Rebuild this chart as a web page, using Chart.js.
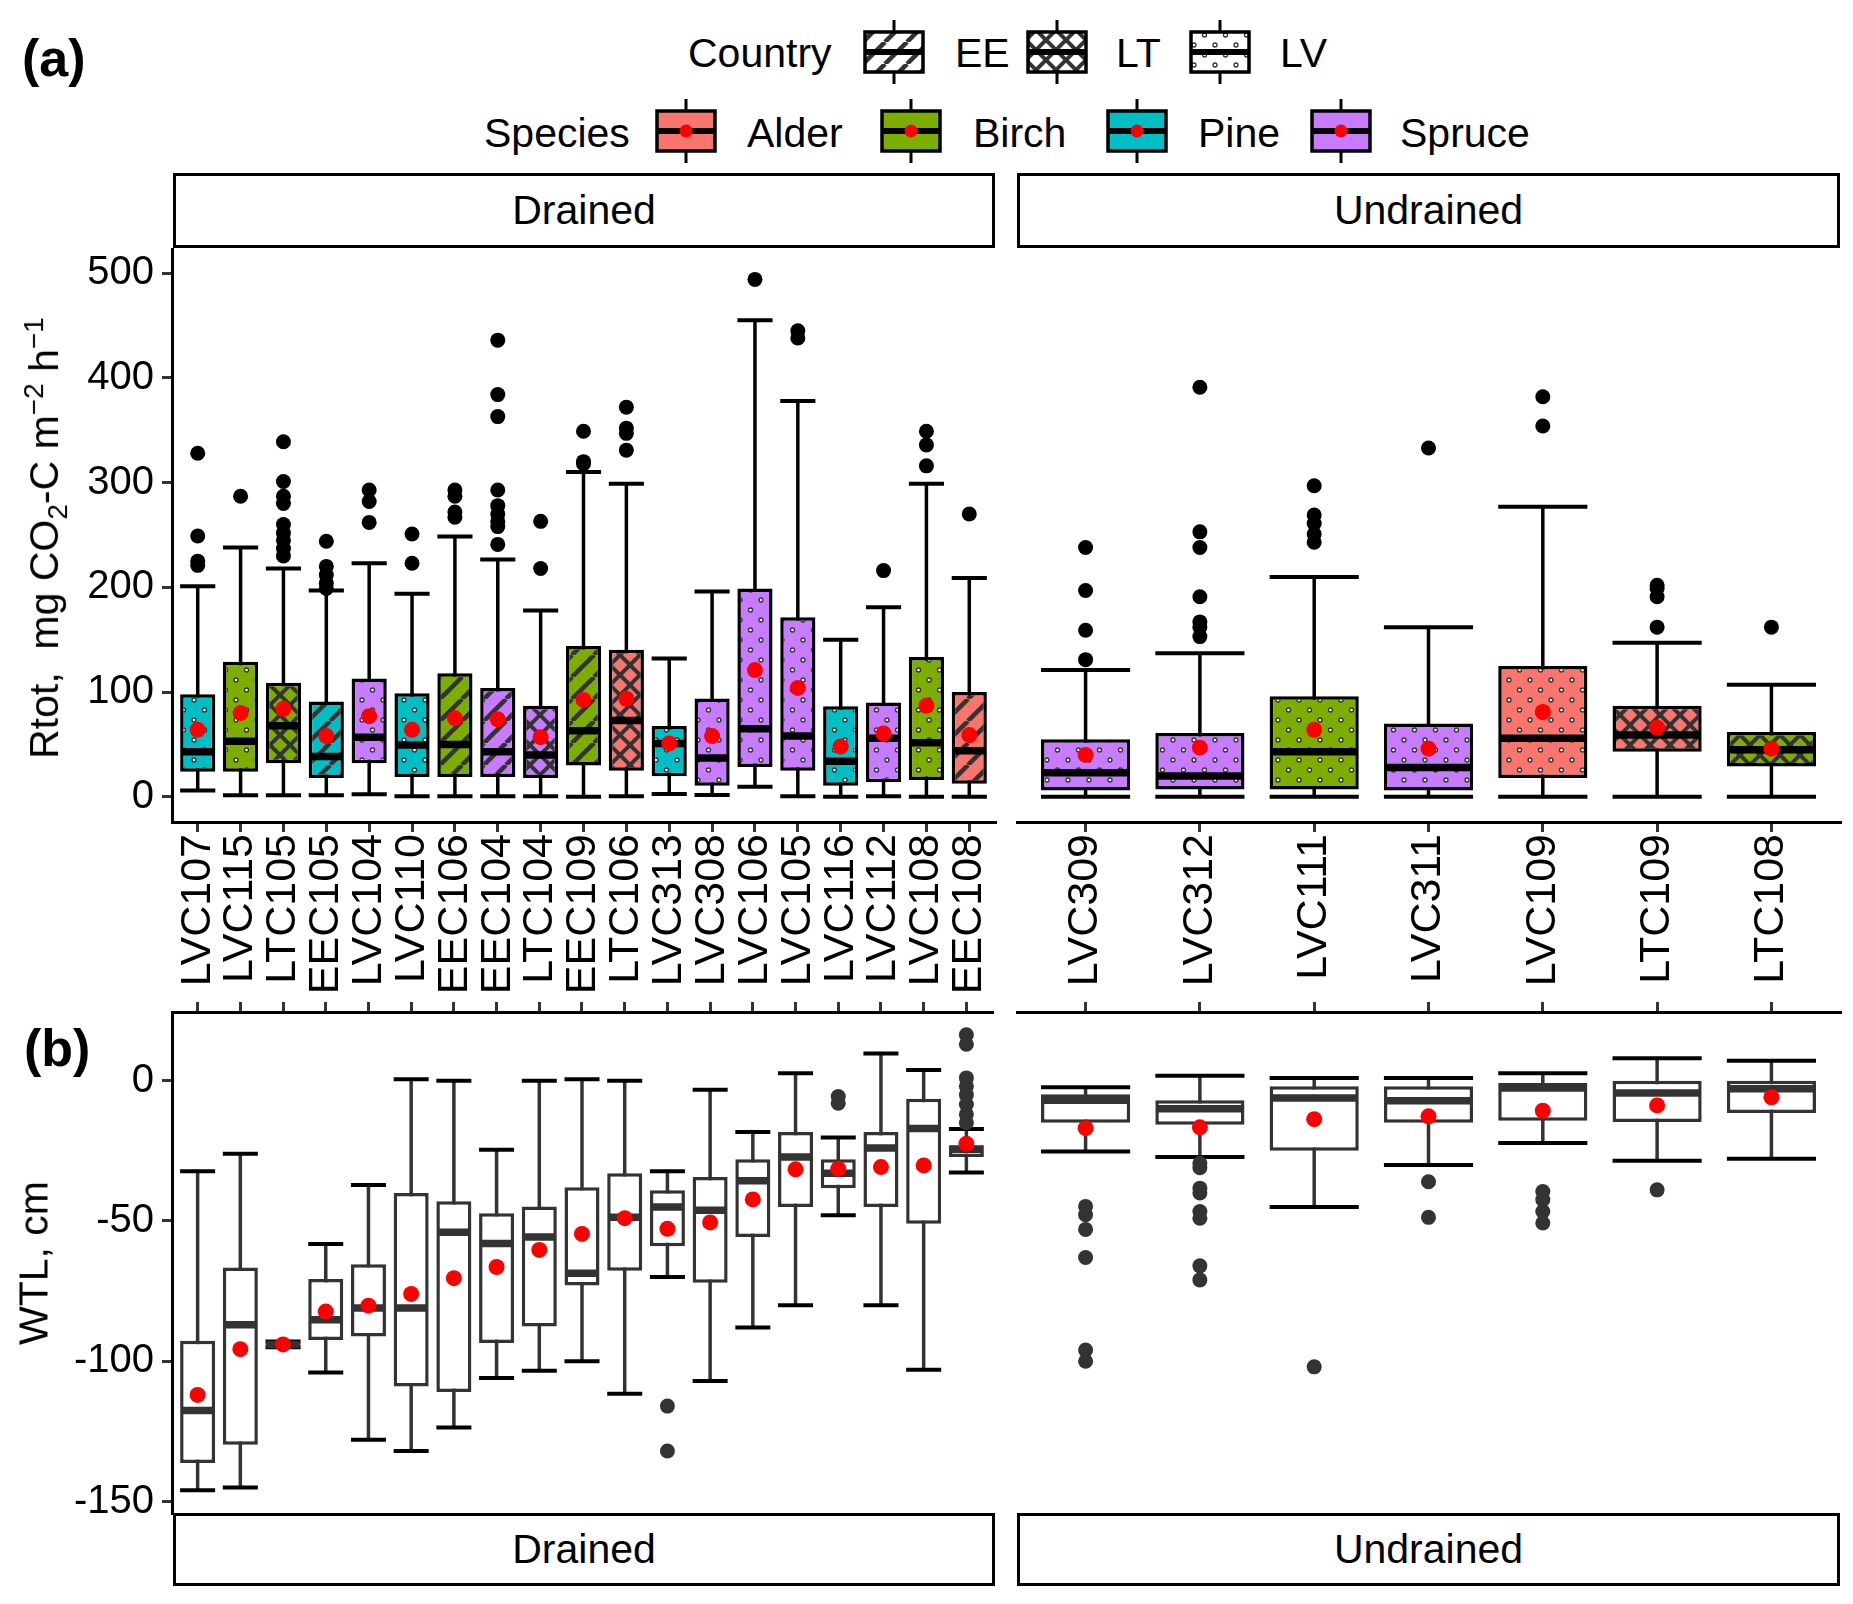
<!DOCTYPE html>
<html>
<head>
<meta charset="utf-8">
<script src="https://cdn.jsdelivr.net/npm/chart.js@4.4.0/dist/chart.umd.min.js"></script>
<style>
body { margin: 0; background: #fff; font-family: "Liberation Sans", Arial, sans-serif; color: #000; }
#page { position: relative; width: 1853px; height: 1604px; overflow: hidden; }
canvas { position: absolute; }
.txt { position: absolute; font-size: 41px; line-height: 1; white-space: nowrap; transform: translateY(-50%); }
.tag { position: absolute; font-size: 52px; font-weight: bold; line-height: 1; transform: translateY(-50%); }
.strip { position: absolute; box-sizing: border-box; border: 3.5px solid #000; background: #fff; font-size: 41px;
         display: flex; align-items: center; justify-content: center; }
.ytitle { position: absolute; font-size: 41px; white-space: nowrap; transform: translate(-50%, -50%) rotate(-90deg); }
.ytitle sub { font-size: 28px; }
.ytitle sup { font-size: 28px; }
</style>
</head>
<body>
<div id="page">
  <canvas id="tl" width="1040" height="795" style="left:0;top:215px"></canvas>
  <canvas id="tr" width="853" height="795" style="left:1000px;top:215px"></canvas>
  <canvas id="bl" width="1000" height="571" style="left:0;top:976px"></canvas>
  <canvas id="br" width="853" height="571" style="left:1000px;top:976px"></canvas>

  <div class="tag" style="left:22px;top:58px">(a)</div>
  <div class="tag" style="left:24px;top:1048px">(b)</div>

  <div class="txt" style="left:688px;top:53px">Country</div>
  <canvas id="kEE" width="62" height="64" style="left:863px;top:20px"></canvas>
  <div class="txt" style="left:955px;top:53px">EE</div>
  <canvas id="kLT" width="62" height="64" style="left:1026px;top:20px"></canvas>
  <div class="txt" style="left:1116px;top:53px">LT</div>
  <canvas id="kLV" width="62" height="64" style="left:1189px;top:20px"></canvas>
  <div class="txt" style="left:1280px;top:53px">LV</div>

  <div class="txt" style="left:484px;top:133px">Species</div>
  <canvas id="kAlder" width="62" height="64" style="left:655px;top:99px"></canvas>
  <div class="txt" style="left:747px;top:133px">Alder</div>
  <canvas id="kBirch" width="62" height="64" style="left:880px;top:99px"></canvas>
  <div class="txt" style="left:973px;top:133px">Birch</div>
  <canvas id="kPine" width="62" height="64" style="left:1106px;top:99px"></canvas>
  <div class="txt" style="left:1198px;top:133px">Pine</div>
  <canvas id="kSpruce" width="62" height="64" style="left:1310px;top:99px"></canvas>
  <div class="txt" style="left:1400px;top:133px">Spruce</div>

  <div class="strip" style="left:173px;top:173px;width:822px;height:75px">Drained</div>
  <div class="strip" style="left:1017px;top:173px;width:823px;height:75px">Undrained</div>
  <div class="strip" style="left:173px;top:1513px;width:822px;height:73px">Drained</div>
  <div class="strip" style="left:1017px;top:1513px;width:823px;height:73px">Undrained</div>

  <div class="ytitle" style="left:46px;top:538px">Rtot,&nbsp; mg CO<sub>2</sub>-C m<sup>&minus;2</sup> h<sup>&minus;1</sup></div>
  <div class="ytitle" style="left:34px;top:1263px">WTL, cm</div>
</div>

<script>
Chart.defaults.font.family = '"Liberation Sans", Arial, sans-serif';
Chart.defaults.color = '#000';

// sites in plotting order
var drainedSites = ['LVC107','LVC115','LTC105','EEC105','LVC104','LVC110','EEC106','EEC104','LTC104','EEC109',
                    'LTC106','LVC313','LVC308','LVC106','LVC105','LVC116','LVC112','LVC108','EEC108'];
var drainedSpecies = ['Pine','Birch','Birch','Pine','Spruce','Pine','Birch','Spruce','Spruce','Birch',
                      'Alder','Pine','Spruce','Spruce','Spruce','Pine','Spruce','Birch','Alder'];
var drainedCountry = ['LV','LV','LT','EE','LV','LV','EE','EE','LT','EE','LT','LV','LV','LV','LV','LV','LV','LV','EE'];

var undrainedSites = ['LVC309','LVC312','LVC111','LVC311','LVC109','LTC109','LTC108'];
var undrainedSpecies = ['Spruce','Spruce','Birch','Spruce','Alder','Alder','Birch'];
var undrainedCountry = ['LV','LV','LV','LV','LV','LT','LT'];

var rtotTicks = [0, 100, 200, 300, 400, 500];
var wtlTicks = [0, -50, -100, -150];

// Rtot, drained
var rtotDrLow  = [6, 1.5, 1.5, 1.5, 2.6, 0.7, 0.7, 0.7, 0.7, 0, 0.7, 2.8, 1.8, 9.6, 0.7, 0, 0.7, 0, 0];
var rtotDrQ1   = [24, 24, 32, 18, 32, 19, 19, 19, 18, 30, 25, 19.6, 10.7, 28.5, 25, 10.7, 14, 16, 12.5];
var rtotDrMed  = [43, 53, 68, 38.5, 57, 49.5, 50, 43, 40, 63, 73, 51, 37, 65, 58, 34, 56, 51.6, 44];
var rtotDrQ3   = [98, 129, 109, 91, 113, 99, 118, 104, 87, 144, 140.5, 67.6, 94, 199, 171.5, 86.5, 90, 133.5, 100];
var rtotDrHigh = [201, 238, 218, 197, 223, 194, 248.5, 226.5, 178, 310, 299, 132, 196, 455, 378, 150, 181, 299, 209];
var rtotDrMean = [64, 80, 84, 58, 77, 64, 75, 74, 57, 92.5, 93.6, 51, 58, 121, 104, 48, 60.5, 87, 59];
var rtotDrOut  = [[328, 249, 225, 221], [287], [339, 301, 287, 280, 260, 252, 245, 237, 230],
                  [244, 220, 212, 204, 199], [293, 282, 262], [251, 223], [293, 287, 272, 267],
                  [436, 384, 363, 293, 278, 270, 263, 258, 241], [263, 218], [349, 320, 318],
                  [372, 352, 347, 331], [], [], [494], [445, 438], [], [216], [349, 336, 316], [270]];

// Rtot, undrained
var rtotUnLow  = [0, 0, 0, 0, 0, 0, 0];
var rtotUnQ1   = [6, 7, 7, 6, 18, 43, 29];
var rtotUnMed  = [23, 20, 43, 28, 56, 59, 45];
var rtotUnQ3   = [55, 61, 96, 70, 125, 87, 62];
var rtotUnHigh = [121, 137, 210, 162, 277, 147, 107];
var rtotUnMean = [40, 47, 64, 46, 81, 66, 46];
var rtotUnOut  = [[238, 197, 159, 131], [391, 253, 238, 191, 167, 162, 153], [297, 269, 261, 251, 243],
                  [333], [382, 354], [202, 199, 191, 162], [162]];

// WTL, drained
var wtlDrLow  = [-146, -145, -95, -104, -128, -132, -123.6, -106, -103.4, -100, -111.6, -70, -107, -88, -80, -48, -80, -103, -32.7];
var wtlDrQ1   = [-136.3, -129.8, -94.8, -92.4, -91.2, -109, -111, -93.5, -87.6, -73, -67.7, -59, -72, -55.7, -45, -38.3, -45, -51, -27.2];
var wtlDrMed  = [-117.6, -87, -94, -85.2, -81, -81, -54, -58, -55.7, -68.6, -48.7, -45, -46.2, -35.7, -27.2, -33, -24, -17, -24.4];
var wtlDrQ3   = [-92.7, -66.6, -93.2, -70.7, -65.4, -40, -43, -47.2, -44.8, -38, -33, -39, -34.3, -28, -18.3, -28, -18.3, -6.4, -23];
var wtlDrHigh = [-32.3, -26, -93, -58.2, -37.2, 0.5, 0, -24.6, 0, 0.5, 0, -32.3, -3.2, -18.3, 2.7, -20.2, 9.7, 3.8, -17.2];
var wtlDrMean = [-112, -95.7, -94, -82.3, -80.2, -76, -70.4, -66.4, -60.3, -54.6, -49, -52.8, -50.5, -42.3, -31.6, -31.4, -30.8, -30.2, -22.5];
var wtlDrOut  = [[], [], [], [], [], [], [], [], [], [], [], [-116, -132], [], [], [], [-5.6, -8],
                 [], [], [16.4, 13, 1, -2, -5, -8.5, -12, -15]];

// WTL, undrained
var wtlUnLow  = [-25.2, -27.2, -45, -30, -22.2, -28.5, -27.8];
var wtlUnQ1   = [-15, -15.7, -25, -15, -14.3, -14.7, -11.5];
var wtlUnMed  = [-7, -10, -6.2, -7.1, -2.6, -4.4, -2.9];
var wtlUnQ3   = [-4.8, -7, -2, -2, -0.8, 0, 0];
var wtlUnHigh = [-2.3, 1.8, 1, 1, 2.7, 8, 7.1];
var wtlUnMean = [-16.9, -16.6, -13.7, -12.7, -10.7, -8.8, -5.9];
var wtlUnOut  = [[-44.8, -47.8, -53, -63, -96, -100], [-29.4, -31, -38.3, -40, -46.6, -49, -66, -71],
                 [-102], [-36, -48.7], [-39.5, -42.4, -46.6, -50.7], [-38.9], []];

var speciesColors = { Alder: '#F8766D', Birch: '#7CAE00', Pine: '#00BFC4', Spruce: '#C77CFF' };

// hatch fill per country: EE stripes, LT crosshatch, LV dots
function makePattern(bg, kind) {
  var c = document.createElement('canvas');
  var w = 22, h = 22;
  if (kind === 'LT') { w = 20; h = 20; }
  if (kind === 'LV') { w = 21; h = 20; }
  c.width = w; c.height = h;
  var g = c.getContext('2d');
  g.fillStyle = bg;
  g.fillRect(0, 0, w, h);
  g.strokeStyle = '#333';
  if (kind === 'EE' || kind === 'LT') {
    g.lineWidth = kind === 'EE' ? 4.5 : 4;
    for (var k = -1; k <= 1; k++) {
      g.beginPath(); g.moveTo(k * w, h); g.lineTo(k * w + w, 0); g.stroke();
      if (kind === 'LT') { g.beginPath(); g.moveTo(k * w, 0); g.lineTo(k * w + w, h); g.stroke(); }
    }
  } else {
    g.lineWidth = 1.3;
    g.fillStyle = '#fff';
    [[5, 5], [15.5, 15]].forEach(function (p) {
      g.beginPath(); g.arc(p[0], p[1], 2, 0, Math.PI * 2); g.fill(); g.stroke();
    });
  }
  return g.createPattern(c, 'repeat');
}

// whiskers, caps and medians, placed through the chart's own scales
function boxParts(st, look) {
  return {
    id: 'boxParts',
    beforeDatasetsDraw: function (chart) {
      var meta = chart.getDatasetMeta(0), y = chart.scales.y, ctx = chart.ctx;
      ctx.save();
      meta.data.forEach(function (el, i) {
        var yl = y.getPixelForValue(st.low[i]), yh = y.getPixelForValue(st.high[i]);
        var hw = el.width / 2;
        ctx.strokeStyle = look.whisker; ctx.lineWidth = 3.5;
        ctx.beginPath(); ctx.moveTo(el.x, yl); ctx.lineTo(el.x, yh); ctx.stroke();
        ctx.strokeStyle = '#000'; ctx.lineWidth = 4;
        [yl, yh].forEach(function (yy) {
          ctx.beginPath(); ctx.moveTo(el.x - hw, yy); ctx.lineTo(el.x + hw, yy); ctx.stroke();
        });
      });
      ctx.restore();
    },
    afterDatasetDraw: function (chart, args) {
      if (args.index !== 0) return;
      var meta = chart.getDatasetMeta(0), y = chart.scales.y, ctx = chart.ctx;
      ctx.save();
      ctx.strokeStyle = look.median; ctx.lineWidth = 7.5;
      meta.data.forEach(function (el, i) {
        var ym = y.getPixelForValue(st.med[i]), hw = el.width / 2 - 1;
        ctx.beginPath(); ctx.moveTo(el.x - hw, ym); ctx.lineTo(el.x + hw, ym); ctx.stroke();
      });
      ctx.restore();
    }
  };
}

function makePanel(id, p) {
  var n = p.sites.length;
  var idx = p.sites.map(function (s, i) { return i + 1; });
  var top = p.rtot;
  var fills = top ? p.sites.map(function (s, i) { return makePattern(speciesColors[p.species[i]], p.country[i]); }) : '#fff';
  var outliers = [];
  p.st.out.forEach(function (arr, i) { arr.forEach(function (v) { outliers.push({ x: i + 1, y: v }); }); });

  return new Chart(document.getElementById(id), {
    type: 'bar',
    data: {
      datasets: [
        { type: 'bar', data: idx.map(function (i) { return { x: i, y: [p.st.q1[i - 1], p.st.q3[i - 1]] }; }),
          backgroundColor: fills, borderColor: top ? '#000' : '#333', borderWidth: 3.5, borderSkipped: false,
          barPercentage: p.barPct, categoryPercentage: 1, order: 3, clip: false },
        { type: 'scatter', data: outliers, pointRadius: 7.5, pointBackgroundColor: top ? '#000' : '#333',
          pointBorderWidth: 0, order: 2, clip: false },
        { type: 'scatter', data: idx.map(function (i) { return { x: i, y: p.st.mean[i - 1] }; }),
          pointRadius: 8, pointBackgroundColor: '#FF0000', pointBorderWidth: 0, order: 1, clip: false }
      ]
    },
    options: {
      responsive: false, animation: false, events: [],
      layout: { padding: p.pad },
      plugins: { legend: { display: false }, tooltip: { enabled: false } },
      scales: {
        x: {
          type: 'linear', position: top ? 'bottom' : 'top', min: 0.4, max: n + 0.6, offset: false,
          afterBuildTicks: function (s) { s.ticks = idx.map(function (v) { return { value: v }; }); },
          afterFit: function (s) { s.height = p.xh; },
          ticks: { display: top, autoSkip: false, maxRotation: 90, minRotation: 90, padding: 2,
                   color: '#000', font: { size: 43 },
                   callback: function (v) { return p.sites[v - 1] || ''; } },
          grid: { drawOnChartArea: false, drawTicks: true, tickLength: 10, color: '#333', lineWidth: 3, offset: false },
          border: { display: true, color: '#000', width: 3 }
        },
        y: {
          type: 'linear', display: p.left, min: p.ymin, max: p.ymax,
          afterBuildTicks: function (s) { s.ticks = p.ticks.map(function (v) { return { value: v }; }); },
          afterFit: function (s) { s.width = p.left ? 172 : 0; },
          ticks: { color: '#000', font: { size: 40 }, padding: 8 },
          grid: { drawOnChartArea: false, tickLength: 10, color: '#333', lineWidth: 3 },
          border: { display: true, color: '#000', width: 3 }
        }
      }
    },
    plugins: [boxParts(p.st, top ? { whisker: '#000', median: '#000' } : { whisker: '#333', median: '#333' })]
  });
}

makePanel('tl', { sites: drainedSites, species: drainedSpecies, country: drainedCountry, rtot: true, left: true,
  st: { low: rtotDrLow, q1: rtotDrQ1, med: rtotDrMed, q3: rtotDrQ3, high: rtotDrHigh, mean: rtotDrMean, out: rtotDrOut },
  ticks: rtotTicks, ymin: -24, ymax: 523, barPct: 0.82, xh: 188,
  pad: { top: 34, right: 45, left: 0, bottom: 0 } });
makePanel('tr', { sites: undrainedSites, species: undrainedSpecies, country: undrainedCountry, rtot: true, left: false,
  st: { low: rtotUnLow, q1: rtotUnQ1, med: rtotUnMed, q3: rtotUnQ3, high: rtotUnHigh, mean: rtotUnMean, out: rtotUnOut },
  ticks: rtotTicks, ymin: -24, ymax: 523, barPct: 0.78, xh: 188,
  pad: { top: 34, right: 13, left: 17, bottom: 0 } });
makePanel('bl', { sites: drainedSites, species: drainedSpecies, country: drainedCountry, rtot: false, left: true,
  st: { low: wtlDrLow, q1: wtlDrQ1, med: wtlDrMed, q3: wtlDrQ3, high: wtlDrHigh, mean: wtlDrMean, out: wtlDrOut },
  ticks: wtlTicks, ymin: -154.1, ymax: 24.5, barPct: 0.82, xh: 12,
  pad: { top: 24, right: 5, left: 0, bottom: 34 } });
makePanel('br', { sites: undrainedSites, species: undrainedSpecies, country: undrainedCountry, rtot: false, left: false,
  st: { low: wtlUnLow, q1: wtlUnQ1, med: wtlUnMed, q3: wtlUnQ3, high: wtlUnHigh, mean: wtlUnMean, out: wtlUnOut },
  ticks: wtlTicks, ymin: -154.1, ymax: 24.5, barPct: 0.78, xh: 12,
  pad: { top: 24, right: 13, left: 17, bottom: 34 } });

// legend keys
function drawKey(id, fill, dot) {
  var c = document.getElementById(id), g = c.getContext('2d');
  var w = c.width, h = c.height;
  g.strokeStyle = '#000';
  g.lineWidth = 3;
  g.beginPath(); g.moveTo(w / 2, 0); g.lineTo(w / 2, h); g.stroke();
  g.fillStyle = fill;
  g.fillRect(2, 12, w - 4, h - 24);
  g.lineWidth = 3.5;
  g.strokeRect(2, 12, w - 4, h - 24);
  g.lineWidth = 6;
  g.beginPath(); g.moveTo(2, h / 2); g.lineTo(w - 2, h / 2); g.stroke();
  if (dot) {
    g.fillStyle = '#FF0000';
    g.beginPath(); g.arc(w / 2, h / 2, 6.5, 0, Math.PI * 2); g.fill();
  }
}
['EE', 'LT', 'LV'].forEach(function (k) { drawKey('k' + k, makePattern('#fff', k), false); });
Object.keys(speciesColors).forEach(function (s) { drawKey('k' + s, speciesColors[s], true); });
</script>
</body>
</html>
